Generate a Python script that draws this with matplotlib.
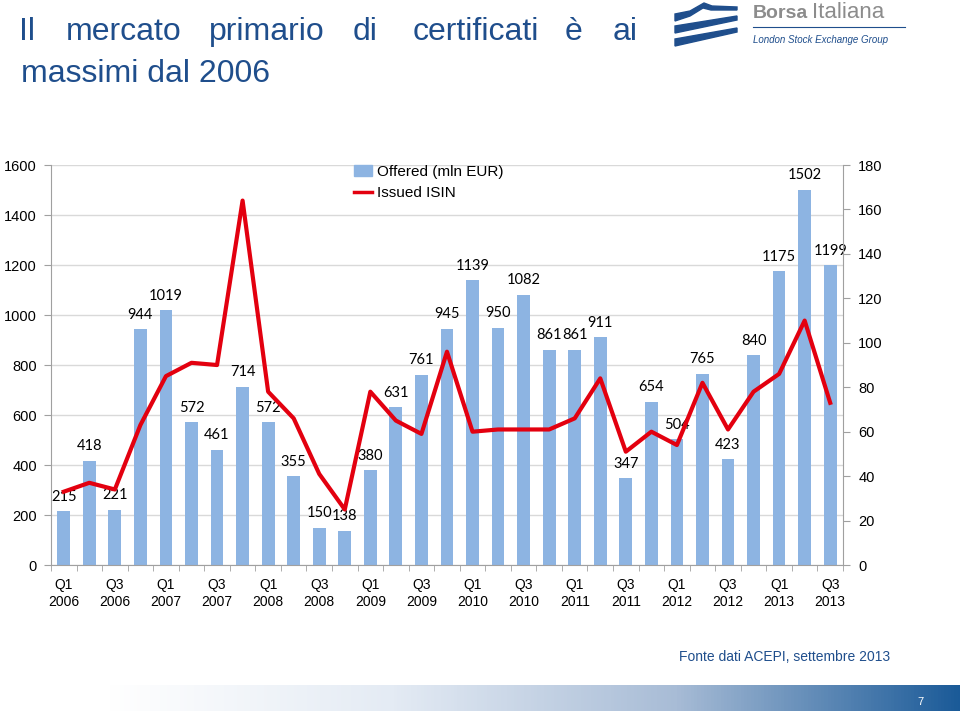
import numpy as np
import matplotlib.pyplot as plt
from matplotlib.colors import LinearSegmentedColormap
from matplotlib.patches import Polygon
from matplotlib.lines import Line2D
from matplotlib.patches import Patch

quarters = ['Q1 2006', 'Q2 2006', 'Q3 2006', 'Q4 2006', 'Q1 2007', 'Q2 2007', 'Q3 2007', 'Q4 2007',
            'Q1 2008', 'Q2 2008', 'Q3 2008', 'Q4 2008', 'Q1 2009', 'Q2 2009', 'Q3 2009', 'Q4 2009',
            'Q1 2010', 'Q2 2010', 'Q3 2010', 'Q4 2010', 'Q1 2011', 'Q2 2011', 'Q3 2011', 'Q4 2011',
            'Q1 2012', 'Q2 2012', 'Q3 2012', 'Q4 2012', 'Q1 2013', 'Q2 2013', 'Q3 2013']
offered = [215, 418, 221, 944, 1019, 572, 461, 714, 572, 355, 150, 138, 380, 631, 761, 945,
           1139, 950, 1082, 861, 861, 911, 347, 654, 504, 765, 423, 840, 1175, 1502, 1199]
issued_isin = [33, 37, 34, 63, 85, 91, 90, 164, 78, 66, 41, 25, 78, 65, 59, 96,
               60, 61, 61, 61, 66, 84, 51, 60, 54, 82, 61, 78, 86, 110, 73]

title_col = '#1F4E8C'
bar_col = '#8DB4E2'
line_col = '#E3000F'
W, H = 960, 711

fig = plt.figure(figsize=(9.6, 7.11), dpi=100)
fig.patch.set_facecolor('white')

ax = fig.add_axes([0.0531, 0.2053, 0.825, 0.5626])
x = np.arange(len(quarters))
ax.bar(x, offered, width=0.5, color=bar_col, zorder=2)
for xi, v in zip(x, offered):
    ax.text(xi, v + 30, str(v), ha='center', va='bottom', fontsize=10.5,
            family='Lato', color='black', zorder=5)
ax.set_xlim(-0.5, len(quarters) - 0.5)
ax.set_ylim(0, 1600)
ax.set_yticks(range(0, 1601, 200))
ax.grid(axis='y', color='#D9D9D9', lw=1, zorder=0)
ax.set_axisbelow(True)
ax.set_xticks(x[::2])
ax.set_xticklabels([q.replace(' ', '\n') for q in quarters[::2]], family='Liberation Sans',
                   fontsize=10, linespacing=1.35)
ax.set_xticks(np.arange(-0.5, len(quarters)), minor=True)
ax.tick_params(axis='x', which='major', length=0, pad=9)
ax.tick_params(axis='x', which='minor', length=4, color='#A0A0A0')
ax.tick_params(axis='y', length=5, color='#A0A0A0', labelsize=10.5, pad=5)
for lbl in ax.get_yticklabels():
    lbl.set_family('Liberation Sans')
for s in ['top', 'right']:
    ax.spines[s].set_visible(False)
for s in ['left', 'bottom']:
    ax.spines[s].set_color('#A0A0A0')

ax2 = ax.twinx()
ax2.plot(x, issued_isin, color=line_col, lw=3, zorder=4)
ax2.set_ylim(0, 180)
ax2.set_yticks(range(0, 181, 20))
ax2.tick_params(axis='y', length=5, color='#A0A0A0', labelsize=10.5, pad=6)
for lbl in ax2.get_yticklabels():
    lbl.set_family('Liberation Sans')
for s in ['top', 'left', 'bottom']:
    ax2.spines[s].set_visible(False)
ax2.spines['right'].set_color('#A0A0A0')

handles = [Patch(color=bar_col, label='Offered (mln EUR)'),
           Line2D([], [], color=line_col, lw=2.5, label='Issued ISIN')]
ax2.legend(handles=handles, loc='upper left', bbox_to_anchor=(0.365, 1.035), frameon=False,
           prop={'family': 'Liberation Sans', 'size': 11}, handlelength=1.2,
           handletextpad=0.35, labelspacing=0.5)

# title: first line is spread out word by word, second line is plain
title_words = [('Il', 27), ('mercato', 124), ('primario', 267), ('di', 365),
               ('certificati', 476), ('è', 574), ('ai', 625)]
for word, cx in title_words:
    fig.text(cx / W, 1 - 40 / H, word, ha='center', va='baseline', fontsize=23,
             color=title_col, family='Liberation Sans')
fig.text(21 / W, 1 - 82 / H, 'massimi dal 2006', ha='left', va='baseline', fontsize=23,
         color=title_col, family='Liberation Sans')

# logo
swooshes = [
    [(675, 14), (690, 11), (704, 3), (712, 6), (737, 7), (737, 10), (711, 10), (703, 8), (690, 16), (675, 21)],
    [(675, 26), (737, 16), (737, 20), (675, 33)],
    [(675, 39), (737, 28), (737, 32), (675, 46)],
]
for pts in swooshes:
    fig.patches.append(Polygon([(px / W, 1 - py / H) for px, py in pts], closed=True,
                               transform=fig.transFigure, color=title_col))
fig.text(753 / W, 1 - 18 / H, 'Borsa', ha='left', va='baseline', fontsize=14,
         fontweight='bold', color='#8C8C8C', family='Liberation Sans')
fig.text(812 / W, 1 - 18 / H, 'Italiana', ha='left', va='baseline', fontsize=16,
         color='#8C8C8C', family='Liberation Sans')
fig.add_artist(Line2D([753 / W, 905 / W], [1 - 27 / H, 1 - 27 / H], transform=fig.transFigure,
                      color=title_col, lw=0.8))
fig.text(753 / W, 1 - 40 / H, 'London Stock Exchange Group', ha='left', va='center',
         fontsize=7, style='italic', color=title_col, family='Liberation Sans')

# source
fig.text(890 / W, 1 - 657 / H, 'Fonte dati ACEPI, settembre 2013', ha='right', va='center',
         fontsize=10, color=title_col, family='Liberation Sans')

# bottom gradient band
gax = fig.add_axes([0.111, 0.0, 0.889, 26 / H])
cmap = LinearSegmentedColormap.from_list('band', ['#FFFFFF', '#E4EBF4', '#A8BCD6', '#1A5A98'])
gax.imshow(np.linspace(0, 1, 256).reshape(1, -1), aspect='auto', cmap=cmap, extent=[0, 1, 0, 1])
gax.axis('off')
fig.text(920 / W, 1 - 702 / H, '7', ha='center', va='center', fontsize=8, color='white',
         family='Liberation Sans')

fig.savefig('out.png', dpi=100)
